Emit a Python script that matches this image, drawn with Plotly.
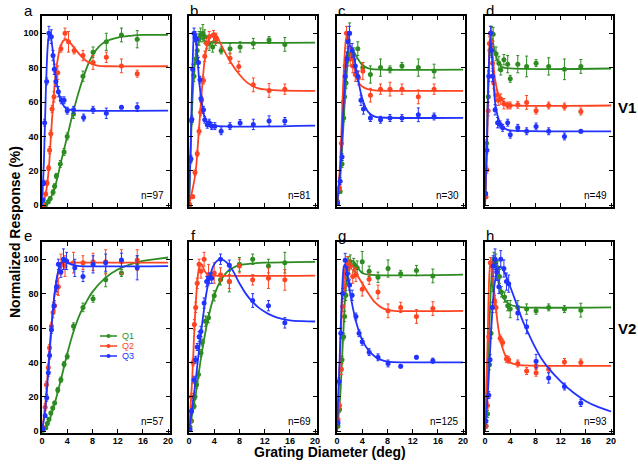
import plotly.graph_objects as go

GREEN = "#2e8b22"
RED = "#ff4422"
BLUE = "#2233ff"

# each point: (diameter, response, error); each fit: (diameter, response)
a_q1_pts = [(0.26, 0, 1), (0.6, 0.5, 1), (1.0, 2, 1), (1.3, 4, 1), (1.75, 7.5, 1.5), (2.0, 11, 1.5), (2.27, 17, 1.5),
            (2.9, 24, 2), (3.5, 31, 2), (4.0, 40, 2), (5.0, 53, 2.5), (6.5, 75, 3), (8.1, 89, 3), (10.2, 95, 5),
            (12.6, 99, 4), (15.1, 96.5, 5)]
a_q1_fit = [(0, 0), (1, 2), (2, 10), (3, 25), (4, 40), (5, 55), (6, 68), (7, 79), (8, 87), (9, 92), (10, 95),
            (12, 97.5), (14, 98.5), (16, 99), (20, 99)]
a_q2_pts = [(0.2, 0, 1), (0.6, 6.6, 1), (0.8, 13, 1.5), (1.05, 21.7, 1.5), (1.2, 32, 2), (1.4, 41.6, 2), (1.6, 56, 2),
            (1.9, 63, 3), (2.2, 77, 3), (2.5, 77, 4), (3.0, 91, 2), (3.65, 100, 3), (4.2, 95, 6), (5.1, 90, 2),
            (6.5, 87, 3), (8.1, 83, 4), (10.2, 86, 3), (12.6, 81, 4), (15.1, 76.5, 2)]
a_q2_fit = [(0, 0), (0.5, 5), (1, 18), (1.5, 45), (2, 70), (2.5, 85), (3, 93), (3.5, 96), (4, 96), (5, 92),
            (6, 87.5), (7, 84), (8, 82), (9, 81), (10, 80.8), (20, 80.8)]
a_q3_pts = [(0.16, 3, 1), (0.26, 13, 1.5), (0.42, 48, 2), (0.74, 72, 2), (1.1, 100, 4), (1.48, 98, 4), (1.75, 87, 3),
            (1.95, 79, 3), (2.2, 72, 3), (2.6, 66, 3), (3.07, 61, 2), (3.5, 61, 2), (4.0, 55, 2), (5.0, 55.5, 2),
            (6.6, 51, 2), (8.1, 55.5, 2), (10.2, 53.5, 3), (12.6, 57, 1), (15.1, 57, 2.5)]
a_q3_fit = [(0, 0), (0.3, 25), (0.6, 65), (0.9, 92), (1.15, 100), (1.4, 98), (1.7, 90), (2, 80), (2.5, 68), (3, 61),
            (3.5, 57.5), (4, 56), (5, 55.2), (6, 55), (20, 55)]

b_q1_pts = [(0.05, 0, 1), (0.26, 26.5, 2), (0.4, 49, 2), (0.79, 75, 3), (1.1, 85, 3), (1.3, 90, 3), (1.6, 97, 4),
            (1.85, 99, 4), (2.2, 100, 5), (2.5, 98, 4), (3.2, 94, 4), (3.75, 92, 3), (4.2, 96, 3), (5.1, 90, 2),
            (6.5, 91, 3), (8.1, 92, 3), (10.2, 94, 3), (12.7, 96, 2), (15.2, 93.5, 4)]
b_q1_fit = [(0, 0), (0.3, 35), (0.6, 65), (1, 85), (1.5, 95), (2, 97), (2.5, 95.5), (3, 94.8), (4, 94.5), (20, 94.5)]
b_q2_pts = [(0.1, 0.5, 1), (0.6, 5, 1), (0.95, 19, 1.5), (1.3, 30, 1.5), (1.6, 43, 2), (1.85, 54, 2), (2.0, 61, 2),
            (2.3, 72.5, 2), (2.5, 86.6, 3), (2.8, 94, 3), (3.2, 98, 3), (3.9, 98.6, 3), (4.3, 97, 3), (6.5, 85.5, 3),
            (7.9, 80.7, 3), (10.2, 70, 4), (12.7, 66.7, 4), (15.2, 67.5, 3)]
b_q2_fit = [(0, 0), (1, 18), (1.5, 40), (2, 65), (2.5, 85), (3, 95), (3.5, 99), (4, 100), (4.5, 98), (5, 94),
            (6, 87), (7, 81), (8, 76), (9, 72), (10, 69.5), (11, 68), (12, 67.3), (14, 66.8), (20, 66.5)]
b_q3_pts = [(0.3, 27, 2), (0.45, 50, 2), (0.58, 79, 3), (0.8, 100, 3), (0.95, 98, 3), (1.2, 96.5, 3), (1.5, 83, 3),
            (1.75, 73, 2), (1.9, 62, 2), (2.3, 55.5, 2), (2.5, 49.7, 2), (2.9, 46.8, 2), (3.2, 48, 2), (3.6, 46, 2),
            (4.1, 46, 2), (5.1, 43, 2), (6.5, 46, 2), (8.1, 47.8, 2), (10.2, 47, 3), (12.7, 49, 3), (15.2, 49, 2)]
b_q3_fit = [(0, 0), (0.3, 40), (0.6, 85), (0.8, 99), (1.0, 97), (1.3, 88), (1.6, 73), (2, 60), (2.5, 51),
            (3, 47.5), (4, 46.3), (20, 46.3)]

c_q1_pts = [(0.1, 2, 1), (0.5, 8, 1), (0.8, 24, 2), (1.06, 50.7, 2), (1.2, 63, 2), (1.43, 71, 3), (1.6, 86, 3),
            (1.85, 88, 4), (2.0, 100, 6), (2.65, 87.5, 4), (3.3, 91, 4), (4.1, 80, 3), (5.3, 76, 5), (6.9, 80, 5),
            (8.4, 79, 2), (10.3, 81, 2), (12.9, 80, 5), (15.4, 78, 4)]
c_q1_fit = [(0, 0), (0.5, 15), (1, 45), (1.5, 75), (2, 88), (2.5, 90), (3, 87), (3.5, 84), (4, 81.5), (5, 79.5),
            (6, 79), (20, 78.8)]
c_q2_pts = [(0.1, 2, 1), (0.4, 10, 1.5), (0.7, 36, 2), (1.0, 60, 3), (1.3, 81, 3), (1.5, 100, 4), (1.7, 96, 4),
            (2.1, 85, 4), (2.5, 81, 4), (2.9, 76, 4), (3.4, 74, 4), (4.1, 78, 5), (5.3, 64, 4), (6.9, 67.5, 3),
            (8.4, 67.5, 4), (10.3, 67.5, 3), (12.9, 63, 4), (15.4, 67.5, 3)]
c_q2_fit = [(0, 0), (0.5, 25), (1, 72), (1.4, 96), (1.6, 99), (2, 93), (2.5, 84), (3, 76), (3.5, 71), (4, 69),
            (5, 67.3), (6, 66.8), (20, 66.5)]
c_q3_pts = [(0.1, 1, 1), (0.5, 14, 2), (0.8, 28, 2), (1.3, 75, 3), (1.6, 85, 4), (1.75, 95, 4), (1.96, 100, 4),
            (2.4, 90, 4), (2.9, 81, 4), (3.3, 75, 3), (3.8, 61, 3), (4.2, 56, 3), (5.3, 50.7, 2), (6.9, 49.7, 2),
            (8.4, 50.7, 2), (10.3, 50.7, 2), (12.9, 52.6, 4), (15.4, 51.6, 2)]
c_q3_fit = [(0, 0), (0.5, 20), (1, 55), (1.5, 85), (2, 93), (2.5, 90), (3, 80), (3.5, 70), (4, 62), (4.5, 57),
            (5, 54), (6, 51.5), (7, 51), (20, 50.8)]

d_q1_pts = [(0.26, 36, 2), (0.53, 63, 3), (0.8, 90, 3), (1.06, 100, 4), (1.3, 99.4, 4), (1.75, 88, 4),
            (2.2, 82.6, 4), (2.5, 78.7, 3), (3.0, 84.6, 3), (3.6, 82, 5), (4.0, 73.5, 2), (5.2, 82, 5),
            (6.6, 80.7, 6), (8.1, 82.6, 2), (10.1, 80.7, 5), (12.6, 79, 6), (15.2, 80.7, 4)]
d_q1_fit = [(0, 0), (0.3, 40), (0.6, 80), (0.9, 96), (1.1, 97), (1.4, 92), (2, 84), (2.5, 81), (3, 80), (20, 79.5)]
d_q2_pts = [(0.16, 5, 1), (0.3, 20.7, 2), (0.5, 55, 3), (0.7, 94, 4), (0.85, 100, 4), (1.0, 95, 4), (1.2, 82.6, 3),
            (1.4, 71, 3), (1.75, 64, 3), (2.1, 61, 3), (2.5, 61.7, 3), (3.0, 59, 3), (3.6, 58, 2), (4.0, 58, 2),
            (5.2, 58.4, 2), (6.6, 59.8, 4), (8.1, 55, 2), (10.1, 58, 2), (12.6, 57.4, 2), (15.2, 54.5, 2)]
d_q2_fit = [(0, 0), (0.3, 30), (0.6, 80), (0.8, 95), (1.0, 94), (1.3, 83), (1.6, 73), (2, 66), (2.5, 62), (3, 60),
            (3.5, 58.8), (4, 58.2), (20, 58)]
d_q3_pts = [(0.1, 6.8, 1), (0.3, 32, 2), (0.6, 75, 3), (0.9, 100, 4), (1.06, 90, 4), (1.2, 75, 3), (1.6, 55.5, 3),
            (2.0, 48, 3), (2.4, 47, 2), (2.8, 45, 2), (3.6, 48, 2), (4.0, 41, 2), (5.2, 45, 2), (6.6, 43, 2),
            (8.1, 45.8, 2), (10.1, 43, 2), (12.6, 40, 2), (15.2, 43, 1)]
d_q3_fit = [(0, 0), (0.3, 35), (0.6, 80), (0.85, 96), (1.0, 92), (1.3, 75), (1.6, 60), (2, 52), (2.5, 47), (3, 45),
            (3.5, 44), (4, 43.5), (20, 43)]

e_q1_pts = [(0.16, 0.6, 0.5), (0.6, 2, 0.5), (0.85, 4.5, 1), (1.1, 7, 1), (1.4, 10.6, 1), (1.7, 13.5, 1),
            (2.0, 16.4, 1), (2.5, 24, 1.5), (3.0, 30, 1.5), (3.5, 39, 1.5), (4.0, 43.5, 1.5), (5.0, 61, 2),
            (6.5, 72, 2.5), (8.1, 77, 2), (10.1, 88, 4), (12.6, 92, 2), (15.1, 98, 4)]
e_q1_fit = [(0, 0), (1, 5), (2, 16), (3, 30), (4, 45), (5, 58), (6, 68), (7, 75), (8, 81), (10, 89), (12, 94),
            (14, 97), (16, 99), (18, 100), (20, 101)]
e_q2_pts = [(0.16, 2, 1), (0.5, 14, 2), (0.7, 27, 2), (1.0, 37, 2), (1.2, 48.5, 2), (1.5, 61, 2), (1.75, 69, 3),
            (2.0, 73, 3), (2.4, 83.5, 4), (2.6, 84, 5), (3.0, 97, 6), (3.65, 96, 6), (5.0, 98, 6), (6.5, 98, 4),
            (8.1, 98.5, 5), (10.1, 98.5, 7), (12.6, 98.5, 7), (15.1, 99.5, 6)]
e_q2_fit = [(0, 0), (0.5, 15), (1, 38), (1.5, 62), (2, 80), (2.5, 91), (3, 96.5), (3.5, 98), (4, 98), (20, 98)]
e_q3_pts = [(0.16, 1.4, 1), (0.5, 9, 1), (0.75, 19.5, 2), (1.0, 34, 2), (1.2, 44, 2), (1.5, 59, 2), (1.9, 73, 2),
            (2.3, 84, 3), (2.6, 97, 3), (3.0, 92.5, 3), (3.4, 100, 6), (3.9, 99, 5), (5.2, 95, 5), (6.5, 90, 3),
            (8.1, 97, 5), (10.1, 98, 5), (12.6, 99.5, 4), (15.1, 95, 7)]
e_q3_fit = [(0, 0), (0.5, 12), (1, 35), (1.5, 60), (2, 80), (2.5, 92), (3, 97.5), (3.5, 99), (4, 98), (5, 96.5),
            (6, 96), (20, 96)]

f_q1_pts = [(0.16, 2.5, 1), (0.4, 6, 1), (0.8, 14.5, 1.5), (0.95, 20, 1.5), (1.2, 27, 2), (1.5, 33, 2),
            (1.9, 45.5, 2), (2.1, 51.6, 2), (2.6, 64, 3), (3.1, 66, 3), (4.0, 78.7, 3), (5.0, 88, 3), (6.4, 87, 6),
            (8.0, 97, 4), (10.1, 100, 3), (12.6, 96, 4), (15.2, 98, 6)]
f_q1_fit = [(0, 0), (1, 20), (2, 45), (3, 65), (4, 79), (5, 87.5), (6, 92.5), (7, 95), (8, 96.5), (10, 97.5),
            (12, 98), (20, 98.5)]
f_q2_pts = [(0.16, 6, 1), (0.4, 20, 2), (0.64, 40, 2), (0.85, 62, 3), (1.06, 72, 3), (1.3, 86, 3), (1.6, 97, 3),
            (1.9, 93, 4), (2.4, 100, 4), (3.1, 91, 6), (4.0, 92, 6), (5.0, 91, 4), (6.4, 87, 4), (8.0, 96, 4),
            (10.1, 88, 3), (12.6, 89, 6), (15.2, 88, 6)]
f_q2_fit = [(0, 0), (0.5, 30), (1, 70), (1.5, 93), (1.8, 97), (2, 97), (2.5, 93), (3, 91), (4, 90.5), (20, 90.5)]
f_q3_pts = [(0.16, 1, 1), (0.4, 11.6, 1.5), (0.8, 30, 2), (1.06, 41.6, 2), (1.3, 49, 2), (1.6, 55, 3),
            (1.9, 58, 3), (2.4, 74.5, 3), (2.8, 87, 3), (3.2, 89, 3), (3.6, 89, 3), (5.0, 100, 3), (6.4, 96.5, 3),
            (10.1, 76, 4), (12.6, 73, 3), (15.2, 63, 3)]
f_q3_fit = [(0, 0), (1, 28), (2, 60), (3, 85), (4, 97), (5, 100), (6, 98), (7, 93), (8, 86), (9, 80), (10, 75.5),
            (11, 72), (12, 69.5), (13, 67.5), (14, 66), (16, 64.5), (18, 64), (20, 63.8)]

g_q1_pts = [(0.16, 3, 1), (0.4, 12.6, 1.5), (0.8, 41.6, 2), (1.06, 55, 2), (1.2, 66.7, 3), (1.4, 79, 3),
            (1.6, 89, 3), (1.85, 97.5, 4), (2.1, 98.5, 4), (2.65, 96.5, 4), (3.2, 95, 4), (4.0, 98.5, 6),
            (5.1, 93, 3), (6.5, 89.5, 3), (8.1, 94.6, 5), (10.1, 91.5, 2), (12.6, 93.4, 3), (15.2, 90.3, 4)]
g_q1_fit = [(0, 0), (0.5, 20), (1, 57), (1.5, 88), (2, 98), (2.5, 99), (3, 97), (3.5, 94), (4, 92), (5, 91), (20, 91)]
g_q2_pts = [(0.16, 6.8, 1), (0.4, 15, 2), (0.7, 36, 3), (0.9, 72.5, 3), (1.16, 84, 3), (1.4, 92, 4),
            (1.64, 97.5, 4), (2.0, 95.5, 4), (2.5, 90, 4), (3.0, 91, 4), (4.0, 82.6, 4), (5.1, 88.4, 3),
            (6.5, 81, 4), (8.1, 70, 4), (10.1, 72, 3), (12.6, 66.7, 4), (15.2, 71.3, 4)]
g_q2_fit = [(0, 0), (0.5, 45), (1, 85), (1.5, 97), (2, 98), (2.5, 96), (3, 92), (4, 86), (5, 80), (6, 75), (7, 72),
            (8, 70.5), (9, 70), (20, 70)]
g_q3_pts = [(0.16, 5, 1), (0.3, 29, 2), (0.6, 57, 3), (0.9, 80, 3), (1.3, 99.4, 4), (1.64, 91.5, 4), (2.0, 85, 3),
            (2.4, 79, 3), (3.0, 66.7, 2), (3.5, 57, 2), (4.0, 52, 2), (5.1, 46, 2), (6.5, 43, 2), (8.1, 39.4, 2),
            (10.1, 37.8, 1), (12.6, 43, 1), (15.2, 41, 1.5)]
g_q3_fit = [(0, 0), (0.4, 40), (0.8, 80), (1.1, 96), (1.3, 97), (1.6, 92), (2, 82), (2.5, 72), (3, 64), (3.5, 58),
            (4, 53), (5, 47), (6, 43.5), (7, 41.5), (8, 40.5), (9, 40.2), (20, 40)]

h_q1_pts = [(0.16, 3, 1), (0.4, 10, 2), (0.7, 38.7, 3), (0.95, 57, 3), (1.2, 85, 4), (1.4, 100, 4), (1.7, 99, 4),
            (2.0, 95, 4), (2.3, 90, 4), (2.6, 81, 3), (3.1, 78, 3), (3.6, 73, 3), (4.0, 71, 5), (5.2, 72, 4),
            (6.6, 71, 3), (8.1, 70, 2), (10.1, 72, 2), (12.6, 71, 2), (15.2, 70.4, 4)]
h_q1_fit = [(0, 0), (0.5, 40), (1, 88), (1.3, 99), (1.6, 97), (2, 89), (2.5, 81), (3, 77), (3.5, 75), (4, 73.5),
            (5, 72.5), (6, 72), (20, 72)]
h_q2_pts = [(0.16, 3, 1), (0.4, 15, 2), (0.6, 55, 3), (0.85, 98, 3), (1.1, 96, 3), (1.5, 76, 3), (1.75, 72, 3),
            (2.4, 54, 2), (2.8, 51.6, 2), (3.4, 42, 2), (3.75, 41.6, 2), (5.2, 39.4, 2), (6.6, 35, 2), (8.1, 38, 2),
            (8.1, 34, 2), (10.1, 36, 2), (12.6, 40.3, 2), (15.2, 40, 2)]
h_q2_fit = [(0, 0), (0.4, 50), (0.7, 92), (0.9, 99), (1.1, 95), (1.5, 80), (2, 63), (2.5, 52), (3, 46), (3.5, 42),
            (4, 40), (5, 38.7), (6, 38.3), (20, 38)]
h_q3_pts = [(0.16, 6, 1), (0.6, 21, 2), (0.8, 41.6, 3), (1.16, 72, 3), (1.3, 96, 6), (1.6, 100, 6),
            (1.85, 92.6, 5), (2.2, 84, 4), (2.5, 100, 5), (3.0, 94.6, 5), (3.4, 87, 5), (3.76, 85.8, 5),
            (5.2, 68.8, 4), (6.6, 60.7, 4), (8.1, 40.7, 4), (10.1, 31, 3), (12.6, 26, 2), (15.2, 16.4, 2)]
h_q3_fit = [(0, 0), (0.5, 25), (1, 60), (1.5, 85), (2, 94), (2.5, 95.5), (3, 93), (4, 84), (5, 74), (6, 64),
            (7, 56), (8, 48.5), (9, 42), (10, 37), (12, 29), (14, 22.5), (16, 17.5), (18, 14), (20, 11.5)]

panel_letters = ["a", "b", "c", "d", "e", "f", "g", "h"]
panel_n = ["n=97", "n=81", "n=30", "n=49", "n=57", "n=69", "n=125", "n=93"]
series_names = ["Q1", "Q2", "Q3"]
x_ticks = [0, 4, 8, 12, 16, 20]
y_ticks = [0, 20, 40, 60, 80, 100]

panels = [
    [(a_q1_pts, a_q1_fit), (a_q2_pts, a_q2_fit), (a_q3_pts, a_q3_fit)],
    [(b_q1_pts, b_q1_fit), (b_q2_pts, b_q2_fit), (b_q3_pts, b_q3_fit)],
    [(c_q1_pts, c_q1_fit), (c_q2_pts, c_q2_fit), (c_q3_pts, c_q3_fit)],
    [(d_q1_pts, d_q1_fit), (d_q2_pts, d_q2_fit), (d_q3_pts, d_q3_fit)],
    [(e_q1_pts, e_q1_fit), (e_q2_pts, e_q2_fit), (e_q3_pts, e_q3_fit)],
    [(f_q1_pts, f_q1_fit), (f_q2_pts, f_q2_fit), (f_q3_pts, f_q3_fit)],
    [(g_q1_pts, g_q1_fit), (g_q2_pts, g_q2_fit), (g_q3_pts, g_q3_fit)],
    [(h_q1_pts, h_q1_fit), (h_q2_pts, h_q2_fit), (h_q3_pts, h_q3_fit)],
]
colors = [GREEN, RED, BLUE]

W, H = 638, 464
FONT = "Liberation Sans, Arial, sans-serif"


def px(x):
    return x / W


def py(y):
    return 1 - y / H


def label(text, x, y, size, color="black", xanchor="center", angle=0, pad=1):
    return dict(text=text, x=px(x), y=py(y), xref="paper", yref="paper", showarrow=False,
                xanchor=xanchor, yanchor="middle", textangle=angle, borderpad=pad,
                font=dict(family=FONT, size=size, color=color))


lefts = [42, 189, 337, 485]
pw = 128
rows_y = [(16, 207), (242, 433)]

fig = go.Figure()
annotations = []

for i, series in enumerate(panels):
    row, col = divmod(i, 4)
    n = i + 1
    xa = "x" if n == 1 else f"x{n}"
    ya = "y" if n == 1 else f"y{n}"
    for (pts, fit), color, name in zip(series, colors, series_names):
        # fitted curve
        fig.add_trace(go.Scatter(
            x=[p[0] for p in fit], y=[p[1] for p in fit], mode="lines",
            line=dict(color=color, width=1.8, shape="spline", smoothing=0.9),
            xaxis=xa, yaxis=ya, showlegend=False, hoverinfo="skip"))
        # data points with error bars
        fig.add_trace(go.Scatter(
            x=[p[0] for p in pts], y=[p[1] for p in pts], mode="markers",
            marker=dict(color=color, size=5),
            error_y=dict(type="data", array=[p[2] for p in pts], color=color, thickness=1, width=1.5),
            xaxis=xa, yaxis=ya, showlegend=False, name=name, cliponaxis=False))

    left = lefts[col]
    top, bot = rows_y[row]
    axis_common = dict(showline=True, mirror="ticks", linecolor="black", linewidth=1.5,
                       ticks="inside", ticklen=4, tickwidth=1, tickcolor="black",
                       showgrid=False, zeroline=False, automargin=False,
                       tickfont=dict(family=FONT, size=9, color="black", weight="bold"))
    fig.layout["xaxis" if n == 1 else f"xaxis{n}"] = dict(
        domain=[px(left), px(left + pw)], anchor=ya, range=[0, 20.3], tickvals=x_ticks,
        showticklabels=(row == 1), ticklabelstandoff=-2, **axis_common)
    fig.layout["yaxis" if n == 1 else f"yaxis{n}"] = dict(
        domain=[py(bot), py(top)], anchor=xa, range=[-1, 110], tickvals=y_ticks,
        showticklabels=(col == 0), **axis_common)

    annotations.append(label(panel_letters[i], left - 14 if col == 0 else left + 5, top - 6, 15))
    annotations.append(label(panel_n[i], left + pw - 4, bot - 12, 10, xanchor="right"))

annotations.append(label("<b>V1</b>", 627, 108, 15))
annotations.append(label("<b>V2</b>", 627, 328, 15))
annotations.append(label("<b>Normalized Response (%)</b>", 15, 232, 14, angle=-90))
annotations.append(label("<b>Grating Diameter (deg)</b>", 330, 452, 14))

# legend drawn in panel e
shapes = []
for k, (name, color) in enumerate(zip(series_names, colors)):
    yy = 336 + k * 10
    shapes.append(dict(type="line", xref="paper", yref="paper", x0=px(100), x1=px(117), y0=py(yy), y1=py(yy),
                       line=dict(color=color, width=1.5)))
    shapes.append(dict(type="circle", xref="paper", yref="paper", x0=px(106.5), x1=px(110.5),
                       y0=py(yy + 2), y1=py(yy - 2), fillcolor=color, line=dict(color=color, width=0)))
    annotations.append(label(name, 121, yy, 9, color=color, xanchor="left", pad=0))

fig.update_layout(
    width=W, height=H, margin=dict(l=0, r=0, t=0, b=0),
    paper_bgcolor="white", plot_bgcolor="white",
    annotations=annotations, shapes=shapes, showlegend=False,
)

# drop the browser's default 8px body margin so the figure fills the window
fig.write_html("out.html", config={"displayModeBar": False},
               post_script="document.body.style.margin = '0';")
